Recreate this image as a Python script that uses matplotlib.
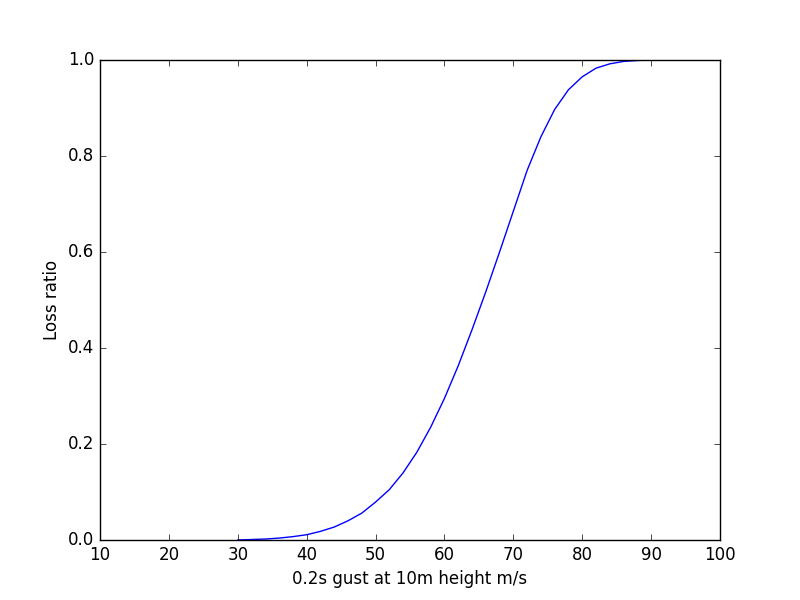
import matplotlib
matplotlib.use("Agg")
import matplotlib.pyplot as plt

speed = [30, 32, 34, 36, 38, 40, 42, 44, 46, 48, 50, 52, 54, 56, 58, 60, 62, 64, 66, 68,
         70, 72, 74, 76, 78, 80, 82, 84, 86, 88, 90, 92, 94, 96, 98, 100]
loss = [0.0, 0.001, 0.002, 0.004, 0.007, 0.011, 0.018, 0.027, 0.040, 0.056, 0.079, 0.105,
        0.140, 0.183, 0.235, 0.295, 0.363, 0.438, 0.517, 0.600, 0.685, 0.770, 0.840, 0.897,
        0.938, 0.965, 0.983, 0.992, 0.997, 0.999, 1.0, 1.0, 1.0, 1.0, 1.0, 1.0]

plt.style.use("classic")
fig = plt.figure(figsize=(8, 6), dpi=100, facecolor="white")
ax = fig.add_axes([0.125, 0.1, 0.775, 0.8])
ax.plot(speed, loss, color="blue", linewidth=1)
ax.set_xlim(10, 100)
ax.set_ylim(0, 1)
ax.set_xlabel("0.2s gust at 10m height m/s")
ax.set_ylabel("Loss ratio")
fig.savefig("out.png", dpi=100, facecolor="white")
